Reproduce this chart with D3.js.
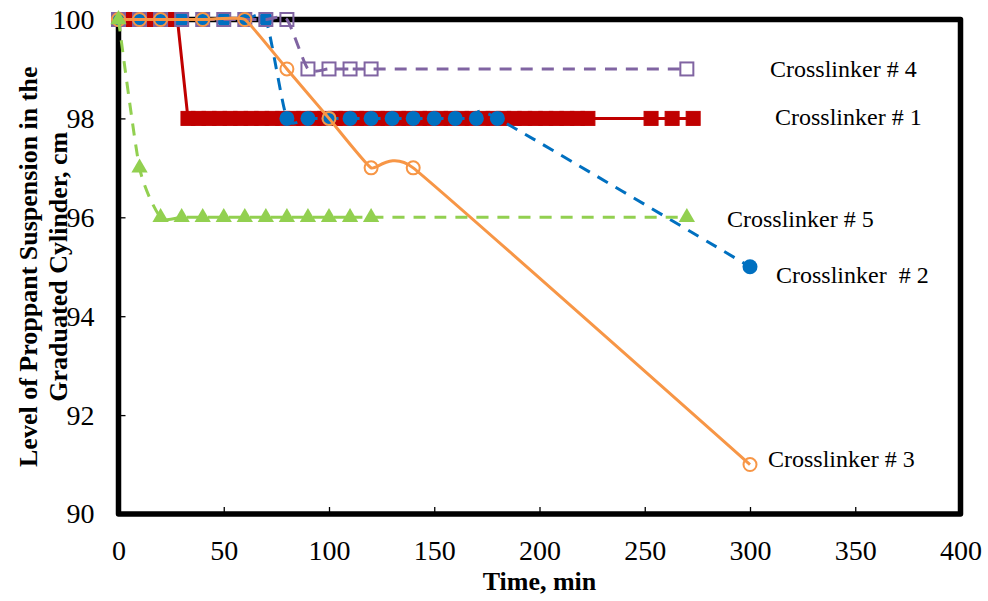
<!DOCTYPE html>
<html>
<head>
<meta charset="utf-8">
<script src="https://cdn.jsdelivr.net/npm/d3@7"></script>
<style>
  body { margin: 0; background: #fff; }
  svg { display: block; }
</style>
</head>
<body>
<svg id="chart" width="988" height="601"></svg>
<script>
// Axis ticks
const xTicks = [0, 50, 100, 150, 200, 250, 300, 350, 400];
const yTicks = [90, 92, 94, 96, 98, 100];

// Crosslinker # 1 (time, min / level, cm)
const time1 = [0, 5, 10, 15, 20, 25, 28,
  33, 38, 43, 48, 53, 58, 63, 68, 73, 78, 83, 88, 93, 98, 103, 108, 113, 118, 123, 128,
  133, 138, 143, 148, 153, 158, 163, 168, 173, 178, 183, 188, 193, 198, 203, 208, 213, 218, 223,
  253, 263, 273];
const level1 = [100, 100, 100, 100, 100, 100, 100,
  98, 98, 98, 98, 98, 98, 98, 98, 98, 98, 98, 98, 98, 98, 98, 98, 98, 98, 98, 98,
  98, 98, 98, 98, 98, 98, 98, 98, 98, 98, 98, 98, 98, 98, 98, 98, 98, 98, 98,
  98, 98, 98];

// Crosslinker # 2
const time2 = [0, 10, 20, 30, 40, 50, 60, 70, 80, 90, 100, 110, 120, 130, 140, 150, 160, 170, 180, 300];
const level2 = [100, 100, 100, 100, 100, 100, 100, 100, 98, 98, 98, 98, 98, 98, 98, 98, 98, 98, 98, 95];

// Crosslinker # 3
const time3 = [0, 10, 20, 40, 60, 80, 100, 120, 140, 300];
const level3 = [100, 100, 100, 100, 100, 99, 98, 97, 97, 91];

// Crosslinker # 4
const time4 = [0, 10, 20, 30, 40, 50, 60, 70, 80, 90, 100, 110, 120, 270];
const level4 = [100, 100, 100, 100, 100, 100, 100, 100, 100, 99, 99, 99, 99, 99];

// Crosslinker # 5
const time5 = [0, 10, 20, 30, 40, 50, 60, 70, 80, 90, 100, 110, 120, 270];
const level5 = [100, 97, 96, 96, 96, 96, 96, 96, 96, 96, 96, 96, 96, 96];

const seriesNames = ["Crosslinker # 1", "Crosslinker  # 2", "Crosslinker # 3", "Crosslinker # 4", "Crosslinker # 5"];

const SERIF = "Liberation Serif, Times New Roman, serif";
const svg = d3.select("#chart").attr("font-family", SERIF);
const plotLeft = 118.5, plotRight = 960.5, plotTop = 19.5, plotBottom = 514;

const x = d3.scaleLinear().domain([0, 400]).range([plotLeft, plotRight]);
const y = d3.scaleLinear().domain([90, 100]).range([plotBottom, plotTop]);

// Plot frame
svg.append("rect")
  .attr("x", plotLeft).attr("y", plotTop)
  .attr("width", plotRight - plotLeft).attr("height", plotBottom - plotTop)
  .attr("fill", "none").attr("stroke", "#000").attr("stroke-width", 5.5)
  .attr("stroke-linejoin", "round");

// Axes with inward ticks
const yAxis = svg.append("g").attr("transform", `translate(${plotLeft},0)`)
  .call(d3.axisLeft(y).tickValues(yTicks).tickSizeInner(-7).tickSizeOuter(0).tickPadding(24));
const xAxis = svg.append("g").attr("transform", `translate(0,${plotBottom})`)
  .call(d3.axisBottom(x).tickValues(xTicks).tickSizeInner(-7).tickSizeOuter(0).tickPadding(26));
[xAxis, yAxis].forEach(g => {
  g.attr("font-family", SERIF).attr("font-size", 28);
  g.select(".domain").remove();
  g.selectAll(".tick line").attr("stroke", "#000").attr("stroke-width", 1.3);
  g.selectAll(".tick text")
    .attr("font-family", SERIF).attr("font-size", 28).attr("fill", "#000");
});

// Axis titles
svg.append("text")
  .attr("x", (plotLeft + plotRight) / 2).attr("y", 590)
  .attr("text-anchor", "middle")
  .attr("font-family", SERIF).attr("font-size", 26).attr("font-weight", "bold")
  .text("Time, min");
const yMid = (plotTop + plotBottom) / 2;
[["Level of Proppant Suspension in the", 37], ["Graduated Cylinder, cm", 67]].forEach(([t, bx]) => {
  svg.append("text")
    .attr("transform", `translate(${bx},${yMid}) rotate(-90)`)
    .attr("text-anchor", "middle")
    .attr("font-family", SERIF).attr("font-size", 26).attr("font-weight", "bold")
    .text(t);
});

const pts = (ts, vs) => ts.map((t, i) => [x(t), y(vs[i])]);
const smooth = d3.line().curve(d3.curveCardinal.tension(0.35));
const smoothTight = d3.line().curve(d3.curveCardinal.tension(0.65));
const straight = d3.line();

function drawLine(points, gen, color, dashed) {
  svg.append("path")
    .attr("d", gen(points))
    .attr("fill", "none")
    .attr("stroke", color)
    .attr("stroke-width", 3)
    .attr("stroke-dasharray", dashed ? "12,9" : null)
    .attr("stroke-linejoin", "round");
}

// Crosslinker # 1 : red squares, solid straight line
const red = "#C00000";
const p1 = pts(time1, level1);
drawLine(p1, straight, red, false);
svg.append("g").selectAll("rect").data(p1).join("rect")
  .attr("x", d => d[0] - 7).attr("y", d => d[1] - 7)
  .attr("width", 14).attr("height", 14)
  .attr("fill", red).attr("stroke", red).attr("stroke-width", 1);

// Crosslinker # 2 : blue filled circles, dashed smoothed line
const blue = "#0070C0";
const p2 = pts(time2, level2);
drawLine(p2, smooth, blue, true);
svg.append("g").selectAll("circle").data(p2).join("circle")
  .attr("cx", d => d[0]).attr("cy", d => d[1]).attr("r", 7.5)
  .attr("fill", blue);

// Crosslinker # 4 : purple open squares, dashed smoothed line
const purple = "#8064A2";
const p4 = pts(time4, level4);
drawLine(p4, smooth, purple, true);
svg.append("g").selectAll("rect").data(p4).join("rect")
  .attr("x", d => d[0] - 6.5).attr("y", d => d[1] - 6.5)
  .attr("width", 13).attr("height", 13)
  .attr("fill", "none").attr("stroke", purple).attr("stroke-width", 2);

// Crosslinker # 3 : orange open circles, solid smoothed line
const orange = "#F79646";
const p3 = pts(time3, level3);
drawLine(p3, smoothTight, orange, false);
svg.append("g").selectAll("circle").data(p3).join("circle")
  .attr("cx", d => d[0]).attr("cy", d => d[1]).attr("r", 6.5)
  .attr("fill", "none").attr("stroke", orange).attr("stroke-width", 2);

// Crosslinker # 5 : green triangles, dashed smoothed line
const green = "#92D050";
const p5 = pts(time5, level5);
drawLine(p5, smooth, green, true);
const tri = d3.symbol().type(d3.symbolTriangle).size(115);
svg.append("g").selectAll("path").data(p5).join("path")
  .attr("transform", d => `translate(${d[0]},${d[1]})`)
  .attr("d", tri)
  .attr("fill", green);

// Series labels
const labelPos = [[775, 125], [776, 283], [768, 467], [770, 77], [727, 227]];
seriesNames.forEach((n, i) => {
  svg.append("text")
    .attr("x", labelPos[i][0]).attr("y", labelPos[i][1])
    .attr("font-family", SERIF).attr("font-size", 24)
    .style("white-space", "pre")
    .attr("xml:space", "preserve")
    .attr("fill", "#000")
    .text(n);
});
</script>
</body>
</html>
